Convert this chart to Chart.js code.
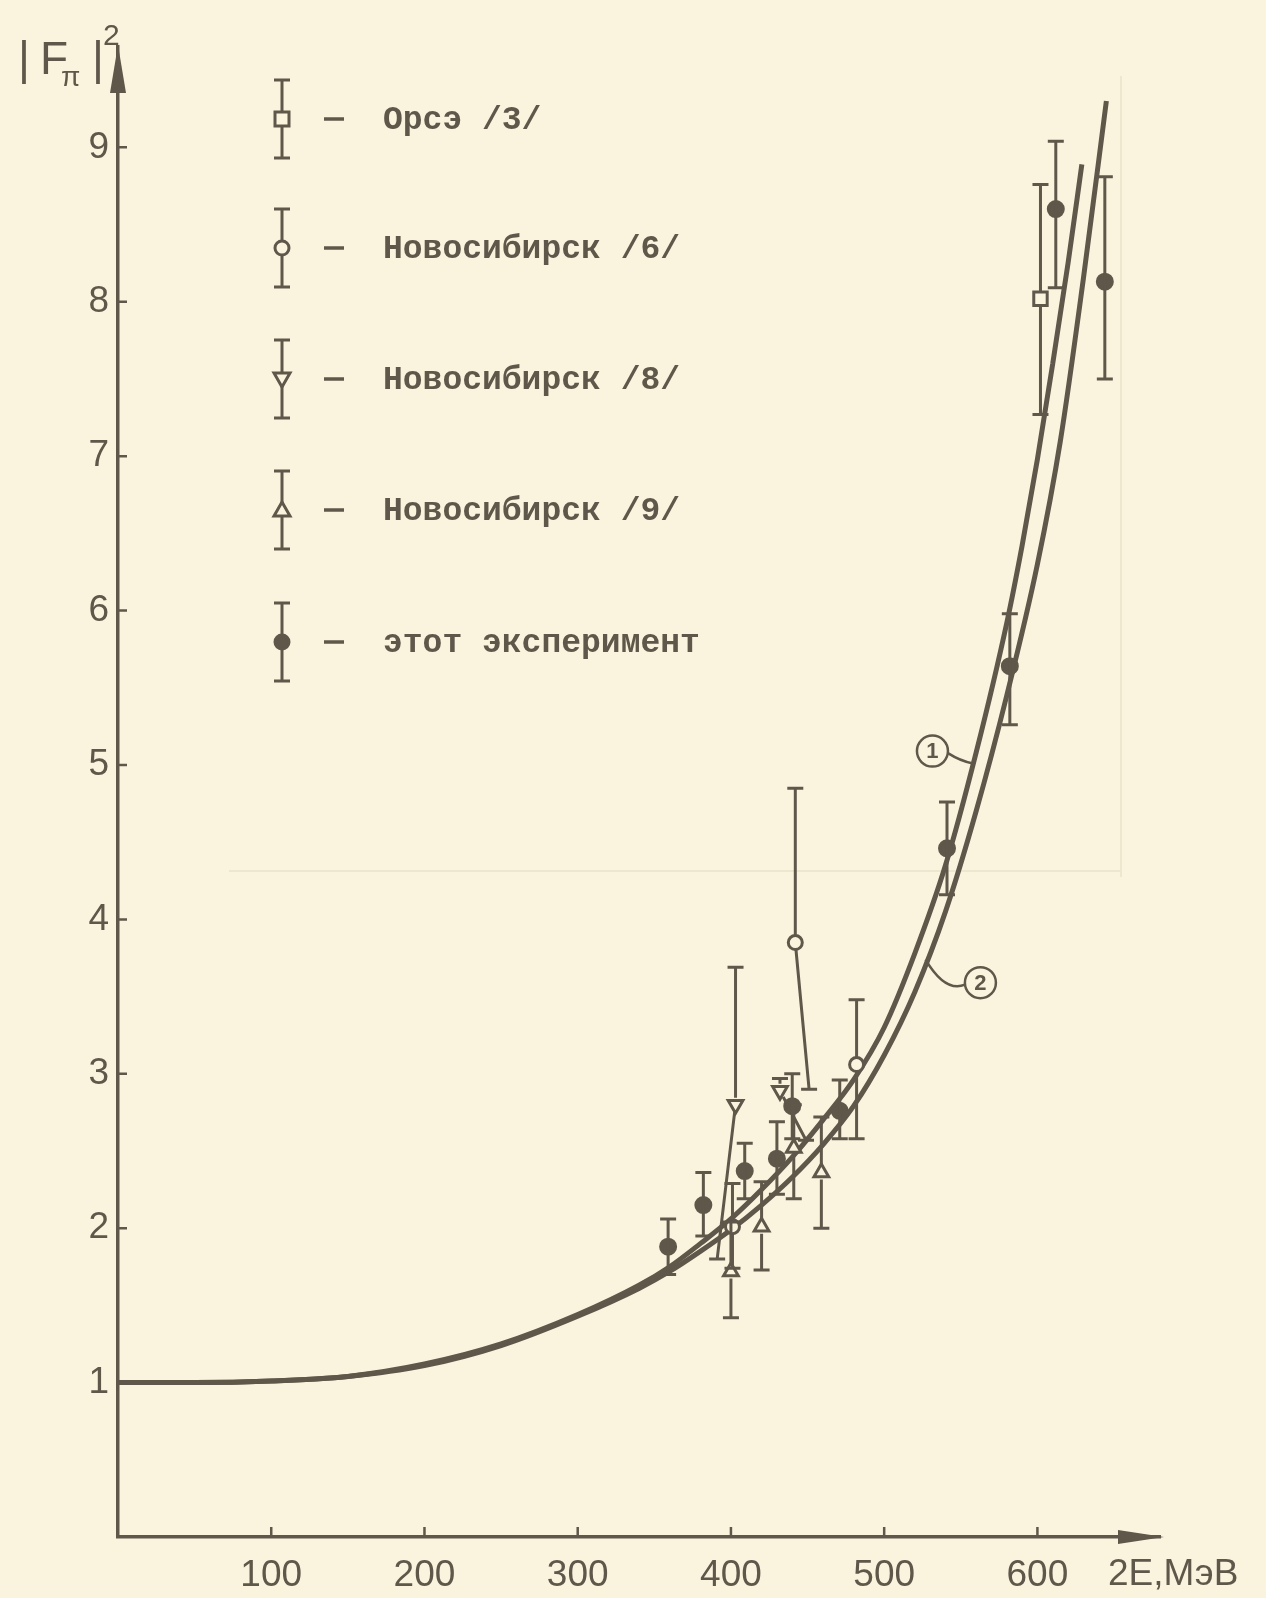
<!DOCTYPE html>
<html>
<head>
<meta charset="utf-8">
<script src="https://cdn.jsdelivr.net/npm/chart.js@4.4.1/dist/chart.umd.min.js"></script>
<style>
html, body { margin: 0; padding: 0; background: #faf4df; }
#wrap { width: 1266px; height: 1598px; position: relative; }
</style>
</head>
<body>
<div id="wrap"><canvas id="myChart"></canvas></div>
<script>
// curves 1 and 2 (2E in MeV, |F|^2)
let curve1X = [0, 50, 100, 150, 200, 250, 300, 340, 360, 380, 400, 420, 440, 460, 480, 500, 520, 540, 560, 580, 590, 600, 610, 620, 629];
let curve1Y = [1.00, 1.00, 1.01, 1.04, 1.12, 1.25, 1.44, 1.63, 1.75, 1.90, 2.06, 2.25, 2.46, 2.70, 2.96, 3.30, 3.78, 4.35, 5.08, 5.92, 6.42, 6.98, 7.60, 8.25, 8.89];
let curve2X = [0, 50, 100, 150, 200, 250, 300, 340, 360, 380, 400, 420, 440, 460, 480, 500, 520, 540, 560, 580, 600, 615, 630, 645];
let curve2Y = [1.00, 1.00, 1.01, 1.04, 1.11, 1.24, 1.43, 1.61, 1.72, 1.85, 1.99, 2.15, 2.33, 2.54, 2.79, 3.12, 3.53, 4.05, 4.70, 5.45, 6.30, 7.10, 8.15, 9.30];

// Орсэ /3/
let orsayX = [602];
let orsayY = [8.02];
let orsayLo = [7.27];
let orsayHi = [8.76];

// Новосибирск /6/
let nov6X = [401, 442, 482];
let nov6Y = [2.01, 3.85, 3.06];
let nov6Lo = [1.74, 2.90, 2.58];
let nov6Hi = [2.29, 4.85, 3.48];
let nov6LoX = [401, 451, 482];

// Новосибирск /8/
let nov8X = [403, 432];
let nov8Y = [2.80, 2.89];
let nov8Lo = [1.80, 2.57];
let nov8Hi = [3.69, 2.97];
let nov8LoX = [391, 449];

// Новосибирск /9/
let nov9X = [400, 420, 441, 459];
let nov9Y = [1.72, 2.01, 2.52, 2.36];
let nov9Lo = [1.42, 1.73, 2.19, 2.00];
let nov9Hi = [2.04, 2.30, 2.80, 2.72];

// этот эксперимент
let thisX = [359, 382, 409, 430, 440, 471, 541, 582, 612, 644];
let thisY = [1.88, 2.15, 2.37, 2.45, 2.79, 2.76, 4.46, 5.64, 8.60, 8.13];
let thisLo = [1.70, 1.95, 2.19, 2.22, 2.58, 2.58, 4.16, 5.26, 8.09, 7.50];
let thisHi = [2.06, 2.36, 2.55, 2.69, 3.00, 2.96, 4.76, 5.98, 9.04, 8.81];

let xTickLabels = [100, 200, 300, 400, 500, 600];
let yTickLabels = [1, 2, 3, 4, 5, 6, 7, 8, 9];
let legendNames = ['Орсэ /3/', 'Новосибирск /6/', 'Новосибирск /8/', 'Новосибирск /9/', 'этот эксперимент'];

const ink = '#5f574a';
const paper = '#faf4df';

function pts(xs, ys) {
    return xs.map((x, i) => ({ x: x, y: ys[i] }));
}

// error bars, drawn with a gap round the marker; lower end may lean (as drawn in the figure)
const errorBars = {
    id: 'errorBars',
    afterDatasetsDraw(chart) {
        const ctx = chart.ctx;
        const xs = chart.scales.x, ys = chart.scales.y;
        ctx.save();
        ctx.strokeStyle = ink;
        ctx.lineWidth = 3;
        chart.data.datasets.forEach((ds, i) => {
            if (!ds.hi) return;
            const meta = chart.getDatasetMeta(i);
            meta.data.forEach((pt, j) => {
                const r = ds.gap;
                const yh = ys.getPixelForValue(ds.hi[j]);
                const yl = ys.getPixelForValue(ds.lo[j]);
                const xl = ds.loX ? xs.getPixelForValue(ds.loX[j]) : pt.x;
                ctx.beginPath();
                if (yh < pt.y - r) {
                    ctx.moveTo(pt.x, pt.y - r);
                    ctx.lineTo(pt.x, yh);
                }
                ctx.moveTo(pt.x - 8, yh);
                ctx.lineTo(pt.x + 8, yh);
                const dx = xl - pt.x, dy = yl - pt.y;
                const len = Math.sqrt(dx * dx + dy * dy);
                if (len > r) {
                    ctx.moveTo(pt.x + dx / len * r, pt.y + dy / len * r);
                    ctx.lineTo(xl, yl);
                }
                ctx.moveTo(xl - 8, yl);
                ctx.lineTo(xl + 8, yl);
                ctx.stroke();
            });
        });
        ctx.restore();
    }
};

function marker(ctx, style, x, y) {
    ctx.save();
    ctx.lineWidth = 3;
    ctx.strokeStyle = ink;
    ctx.fillStyle = paper;
    ctx.beginPath();
    if (style === 'rect') {
        ctx.rect(x - 7, y - 7, 14, 14);
    } else if (style === 'circle' || style === 'dot') {
        ctx.arc(x, y, 7, 0, Math.PI * 2);
        if (style === 'dot') ctx.fillStyle = ink;
    } else if (style === 'down') {
        ctx.moveTo(x - 8, y - 6);
        ctx.lineTo(x + 8, y - 6);
        ctx.lineTo(x, y + 8);
        ctx.closePath();
    } else {
        ctx.moveTo(x - 8, y + 6);
        ctx.lineTo(x + 8, y + 6);
        ctx.lineTo(x, y - 8);
        ctx.closePath();
    }
    ctx.fill();
    ctx.stroke();
    ctx.restore();
}

const decor = {
    id: 'decor',
    beforeDraw(chart) {
        const ctx = chart.ctx;
        ctx.save();
        ctx.fillStyle = paper;
        ctx.fillRect(0, 0, chart.width, chart.height);
        // faint show-through of the reverse page
        ctx.strokeStyle = 'rgba(190, 180, 150, 0.2)';
        ctx.lineWidth = 2;
        ctx.beginPath();
        ctx.moveTo(1121, 76); ctx.lineTo(1121, 877);
        ctx.moveTo(229, 871); ctx.lineTo(1121, 871);
        ctx.stroke();
        ctx.restore();
    },
    afterDraw(chart) {
        const ctx = chart.ctx;
        const xs = chart.scales.x, ys = chart.scales.y;
        const a = chart.chartArea;
        ctx.save();
        ctx.strokeStyle = ink;
        ctx.fillStyle = ink;
        ctx.lineWidth = 2.5;

        // inner tick marks
        ctx.beginPath();
        yTickLabels.forEach(v => {
            const y = ys.getPixelForValue(v);
            ctx.moveTo(a.left, y);
            ctx.lineTo(a.left + 9, y);
        });
        xTickLabels.forEach(v => {
            const x = xs.getPixelForValue(v);
            ctx.moveTo(x, a.bottom);
            ctx.lineTo(x, a.bottom - 10);
        });
        ctx.stroke();

        // axis arrows
        ctx.beginPath();
        ctx.moveTo(a.left, a.top - 2);
        ctx.lineTo(a.left - 8, a.top + 46);
        ctx.lineTo(a.left + 8, a.top + 46);
        ctx.closePath();
        ctx.fill();
        ctx.beginPath();
        ctx.moveTo(a.right + 4, a.bottom);
        ctx.lineTo(a.right - 42, a.bottom - 7);
        ctx.lineTo(a.right - 42, a.bottom + 7);
        ctx.closePath();
        ctx.fill();

        // axis titles
        ctx.textBaseline = 'alphabetic';
        ctx.textAlign = 'left';
        ctx.font = '46px "Liberation Sans"';
        ctx.fillText('|', 18, 74);
        ctx.fillText('F', 40, 74);
        ctx.fillText('|', 92, 74);
        ctx.font = '28px "Liberation Sans"';
        ctx.fillText('π', 61, 86);
        ctx.font = '30px "Liberation Sans"';
        ctx.fillText('2', 103, 45);
        ctx.font = '37px "Liberation Sans"';
        ctx.textBaseline = 'middle';
        ctx.fillText('2E,МэВ', 1108, 1575);

        // curve labels (1) and (2)
        const labels = [
            { num: '1', at: [531.5, 5.09], to: [558, 5.01] },
            { num: '2', at: [562.8, 3.59], to: [527, 3.74] }
        ];
        labels.forEach(l => {
            const cx = xs.getPixelForValue(l.at[0]), cy = ys.getPixelForValue(l.at[1]);
            const tx = xs.getPixelForValue(l.to[0]), ty = ys.getPixelForValue(l.to[1]);
            ctx.lineWidth = 2.5;
            ctx.beginPath();
            ctx.arc(cx, cy, 15.5, 0, Math.PI * 2);
            ctx.stroke();
            const sx = tx > cx ? cx + 15.5 : cx - 15.5;
            ctx.beginPath();
            ctx.moveTo(sx, cy + 2);
            ctx.quadraticCurveTo((sx + tx) / 2, cy + 10, tx, ty);
            ctx.stroke();
            ctx.font = 'bold 22px "Liberation Sans"';
            ctx.textAlign = 'center';
            ctx.textBaseline = 'middle';
            ctx.fillText(l.num, cx, cy + 1);
        });

        // legend
        const styles = ['rect', 'circle', 'down', 'up', 'dot'];
        const rows = [119, 248, 379, 510, 642];
        ctx.textAlign = 'left';
        ctx.textBaseline = 'middle';
        ctx.font = 'bold 33px "Liberation Mono"';
        rows.forEach((y, i) => {
            const x = 282;
            ctx.lineWidth = 3;
            ctx.beginPath();
            ctx.moveTo(x, y - 39); ctx.lineTo(x, y + 39);
            ctx.moveTo(x - 8, y - 39); ctx.lineTo(x + 8, y - 39);
            ctx.moveTo(x - 8, y + 39); ctx.lineTo(x + 8, y + 39);
            ctx.stroke();
            marker(ctx, styles[i], x, y);
            ctx.lineWidth = 3.5;
            ctx.beginPath();
            ctx.moveTo(324, y); ctx.lineTo(344, y);
            ctx.stroke();
            ctx.fillText(legendNames[i], 383, y + 2);
        });
        ctx.restore();
    }
};

const pointBase = {
    showLine: false,
    borderColor: ink,
    borderWidth: 3,
    pointHoverRadius: 0
};

let ctx = document.getElementById('myChart').getContext('2d');
let myChart = new Chart(ctx, {
    type: 'scatter',
    data: {
        datasets: [
            Object.assign({}, pointBase, {
                label: 'Орсэ /3/',
                data: pts(orsayX, orsayY),
                pointStyle: 'rect', pointRadius: 9.5,
                backgroundColor: paper,
                lo: orsayLo, hi: orsayHi, gap: 7
            }),
            Object.assign({}, pointBase, {
                label: 'Новосибирск /6/',
                data: pts(nov6X, nov6Y),
                pointStyle: 'circle', pointRadius: 7,
                backgroundColor: paper,
                lo: nov6Lo, hi: nov6Hi, loX: nov6LoX, gap: 7
            }),
            Object.assign({}, pointBase, {
                label: 'Новосибирск /8/',
                data: pts(nov8X, nov8Y),
                pointStyle: 'triangle', pointRotation: 180, pointRadius: 8.5,
                backgroundColor: paper,
                lo: nov8Lo, hi: nov8Hi, loX: nov8LoX, gap: 7
            }),
            Object.assign({}, pointBase, {
                label: 'Новосибирск /9/',
                data: pts(nov9X, nov9Y),
                pointStyle: 'triangle', pointRadius: 8.5,
                backgroundColor: paper,
                lo: nov9Lo, hi: nov9Hi, gap: 7
            }),
            Object.assign({}, pointBase, {
                label: 'этот эксперимент',
                data: pts(thisX, thisY),
                pointStyle: 'circle', pointRadius: 7.5,
                backgroundColor: ink,
                lo: thisLo, hi: thisHi, gap: 0
            }),
            {
                label: '1',
                data: pts(curve1X, curve1Y),
                showLine: true,
                borderColor: ink,
                borderWidth: 5,
                pointRadius: 0,
                cubicInterpolationMode: 'monotone'
            },
            {
                label: '2',
                data: pts(curve2X, curve2Y),
                showLine: true,
                borderColor: ink,
                borderWidth: 5,
                pointRadius: 0,
                cubicInterpolationMode: 'monotone'
            }
        ]
    },
    options: {
        responsive: true,
        maintainAspectRatio: false,
        animation: false,
        events: [],
        layout: { padding: { top: 47, right: 106, left: 0, bottom: 0 } },
        plugins: {
            legend: { display: false },
            tooltip: { enabled: false }
        },
        scales: {
            x: {
                type: 'linear',
                min: 0,
                max: 680,
                grid: { display: false, drawTicks: false },
                border: { display: true, color: ink, width: 3.5 },
                ticks: {
                    stepSize: 100,
                    includeBounds: false,
                    padding: 17,
                    color: ink,
                    font: { family: 'Liberation Sans', size: 37 },
                    callback: v => xTickLabels.includes(v) ? String(v) : ''
                },
                afterFit: s => { s.height = 61; }
            },
            y: {
                type: 'linear',
                min: 0,
                max: 9.65,
                grid: { display: false, drawTicks: false },
                border: { display: true, color: ink, width: 3.5 },
                ticks: {
                    stepSize: 1,
                    includeBounds: false,
                    padding: 9,
                    color: ink,
                    font: { family: 'Liberation Sans', size: 37 },
                    callback: v => yTickLabels.includes(v) ? String(v) : ''
                },
                afterFit: s => { s.width = 118; }
            }
        }
    },
    plugins: [decor, errorBars]
});
</script>
</body>
</html>
